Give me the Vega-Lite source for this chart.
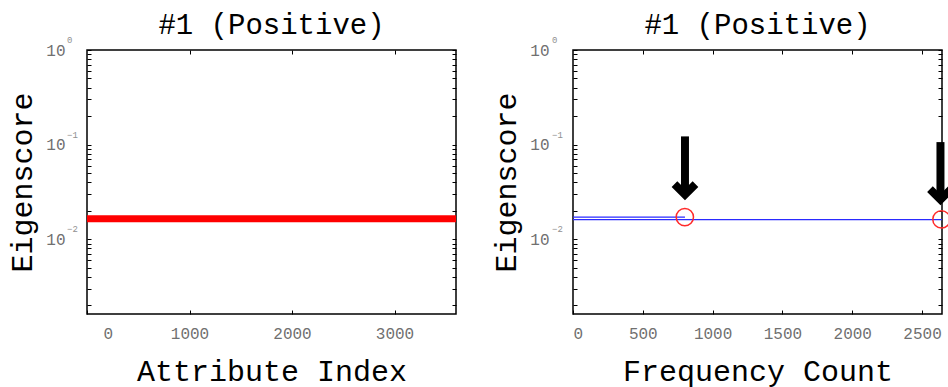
{
  "$schema": "https://vega.github.io/schema/vega-lite/v6.json",
  "padding": {"left": 7, "top": 10, "right": 0, "bottom": 0},
  "background": "white",
  "bounds": "flush",
  "spacing": 117,
  "config": {
    "view": {"stroke": "#000000", "strokeWidth": 1.5},
    "font": "Liberation Mono",
    "title": {"font": "Liberation Mono", "fontSize": 29, "fontWeight": "normal", "color": "#000000", "offset": -4},
    "axis": {
      "labelFont": "Liberation Mono", "labelFontSize": 16, "labelColor": "#707070",
      "titleFont": "Liberation Mono", "titleFontSize": 30, "titleFontWeight": "normal", "titleColor": "#000000",
      "grid": false, "domain": false, "tickColor": "#000000", "tickSize": -4, "tickWidth": 1, "format": "d"
    }
  },
  "datasets": {
    "attr": [
      {"index": 0, "score": 0.0165}, {"index": 300, "score": 0.0165}, {"index": 600, "score": 0.0165},
      {"index": 900, "score": 0.0165}, {"index": 1200, "score": 0.0165}, {"index": 1500, "score": 0.0165},
      {"index": 1800, "score": 0.0165}, {"index": 2100, "score": 0.0165}, {"index": 2400, "score": 0.0165},
      {"index": 2700, "score": 0.0165}, {"index": 3000, "score": 0.0165}, {"index": 3300, "score": 0.0165},
      {"index": 3600, "score": 0.0165}
    ],
    "exps": [
      {"value": 1, "exp": "0"},
      {"value": 0.1, "exp": "−1"},
      {"value": 0.01, "exp": "−2"}
    ],
    "freq": [
      {"series": "a", "count": 0, "score": 0.01714},
      {"series": "a", "count": 802, "score": 0.01714},
      {"series": "b", "count": 0, "score": 0.0161},
      {"series": "b", "count": 2643, "score": 0.0161}
    ],
    "marked": [
      {"count": 801, "score": 0.01714},
      {"count": 2639, "score": 0.0162}
    ],
    "arrows": [
      {"count": 802, "top": 0.1221, "head": 0.02958},
      {"count": 2632, "top": 0.1063, "head": 0.0262}
    ]
  },
  "hconcat": [
    {
      "title": "#1 (Positive)",
      "width": 369,
      "height": 264,
      "resolve": {"axis": {"x": "independent", "y": "independent"}},
      "layer": [
        {
          "data": {"name": "attr"},
          "mark": {"type": "line", "color": "#ff0000", "strokeWidth": 7, "strokeCap": "butt"},
          "encoding": {
            "x": {"field": "index", "type": "quantitative",
              "scale": {"domain": [0, 3600], "nice": false, "zero": false},
              "axis": {"title": "Attribute Index", "values": [0, 1000, 2000, 3000], "labelPadding": 15, "titlePadding": 15,
                "labelOffset": {"condition": {"test": "datum.value == 0", "value": 16}, "value": 0}}},
            "y": {"field": "score", "type": "quantitative",
              "scale": {"type": "log", "domain": [0.00162, 1], "nice": false},
              "axis": {"title": "Eigenscore", "orient": "left",
                "values": [0.002,0.003,0.004,0.005,0.006,0.007,0.008,0.009,0.01,0.02,0.03,0.04,0.05,0.06,0.07,0.08,0.09,0.1,0.2,0.3,0.4,0.5,0.6,0.7,0.8,0.9,1],
                "labelExpr": "(datum.value == 1 || datum.value == 0.1 || datum.value == 0.01) ? '10' : ''",
                "labelPadding": 26, "titlePadding": 8}}
          }
        },
        {
          "data": {"name": "exps"},
          "mark": {"type": "text", "align": "left", "baseline": "middle", "dx": -20, "dy": -10, "fontSize": 9, "color": "#909090"},
          "encoding": {
            "x": {"datum": 0, "type": "quantitative",
              "axis": {"orient": "top", "labels": false, "title": null, "values": [1000, 2000, 3000]}},
            "y": {"field": "value", "type": "quantitative",
              "axis": {"orient": "right", "labels": false, "title": null,
                "values": [0.002,0.003,0.004,0.005,0.006,0.007,0.008,0.009,0.01,0.02,0.03,0.04,0.05,0.06,0.07,0.08,0.09,0.1,0.2,0.3,0.4,0.5,0.6,0.7,0.8,0.9,1]}},
            "text": {"field": "exp"}
          }
        }
      ]
    },
    {
      "title": "#1 (Positive)",
      "width": 369,
      "height": 264,
      "resolve": {"axis": {"x": "independent", "y": "independent"}},
      "layer": [
        {
          "data": {"name": "freq"},
          "mark": {"type": "line", "color": "#2a2aff", "strokeWidth": 1.4},
          "encoding": {
            "x": {"field": "count", "type": "quantitative",
              "scale": {"domain": [0, 2643], "nice": false, "zero": false},
              "axis": {"title": "Frequency Count", "values": [0, 500, 1000, 1500, 2000, 2500], "labelPadding": 15, "titlePadding": 15}},
            "y": {"field": "score", "type": "quantitative",
              "scale": {"type": "log", "domain": [0.00162, 1], "nice": false},
              "axis": {"title": "Eigenscore", "orient": "left",
                "values": [0.002,0.003,0.004,0.005,0.006,0.007,0.008,0.009,0.01,0.02,0.03,0.04,0.05,0.06,0.07,0.08,0.09,0.1,0.2,0.3,0.4,0.5,0.6,0.7,0.8,0.9,1],
                "labelExpr": "(datum.value == 1 || datum.value == 0.1 || datum.value == 0.01) ? '10' : ''",
                "labelPadding": 28, "titlePadding": 8}},
            "detail": {"field": "series"}
          }
        },
        {
          "data": {"name": "exps"},
          "mark": {"type": "text", "align": "left", "baseline": "middle", "dx": -21, "dy": -10, "fontSize": 9, "color": "#909090"},
          "encoding": {
            "x": {"datum": 0, "type": "quantitative",
              "axis": {"orient": "top", "labels": false, "title": null, "values": [500, 1000, 1500, 2000, 2500]}},
            "y": {"field": "value", "type": "quantitative",
              "axis": {"orient": "right", "labels": false, "title": null,
                "values": [0.002,0.003,0.004,0.005,0.006,0.007,0.008,0.009,0.01,0.02,0.03,0.04,0.05,0.06,0.07,0.08,0.09,0.1,0.2,0.3,0.4,0.5,0.6,0.7,0.8,0.9,1]}},
            "text": {"field": "exp"}
          }
        },
        {
          "data": {"name": "marked"},
          "mark": {"type": "point", "shape": "circle", "filled": false, "color": "#ff2a2a", "strokeWidth": 1.5, "size": 300, "opacity": 1},
          "encoding": {
            "x": {"field": "count", "type": "quantitative", "axis": null},
            "y": {"field": "score", "type": "quantitative", "axis": null}
          }
        },
        {
          "data": {"name": "arrows"},
          "mark": {"type": "rule", "color": "#000000", "strokeWidth": 8, "strokeCap": "butt"},
          "encoding": {
            "x": {"field": "count", "type": "quantitative", "axis": null},
            "y": {"field": "top", "type": "quantitative", "axis": null},
            "y2": {"field": "head"}
          }
        },
        {
          "data": {"name": "arrows"},
          "mark": {"type": "point", "shape": "M-1,-1L0,0L1,-1", "filled": false, "color": "#000000", "strokeWidth": 8, "strokeJoin": "miter", "strokeCap": "butt", "size": 441, "opacity": 1},
          "encoding": {
            "x": {"field": "count", "type": "quantitative", "axis": null},
            "y": {"field": "head", "type": "quantitative", "axis": null}
          }
        }
      ]
    }
  ]
}
